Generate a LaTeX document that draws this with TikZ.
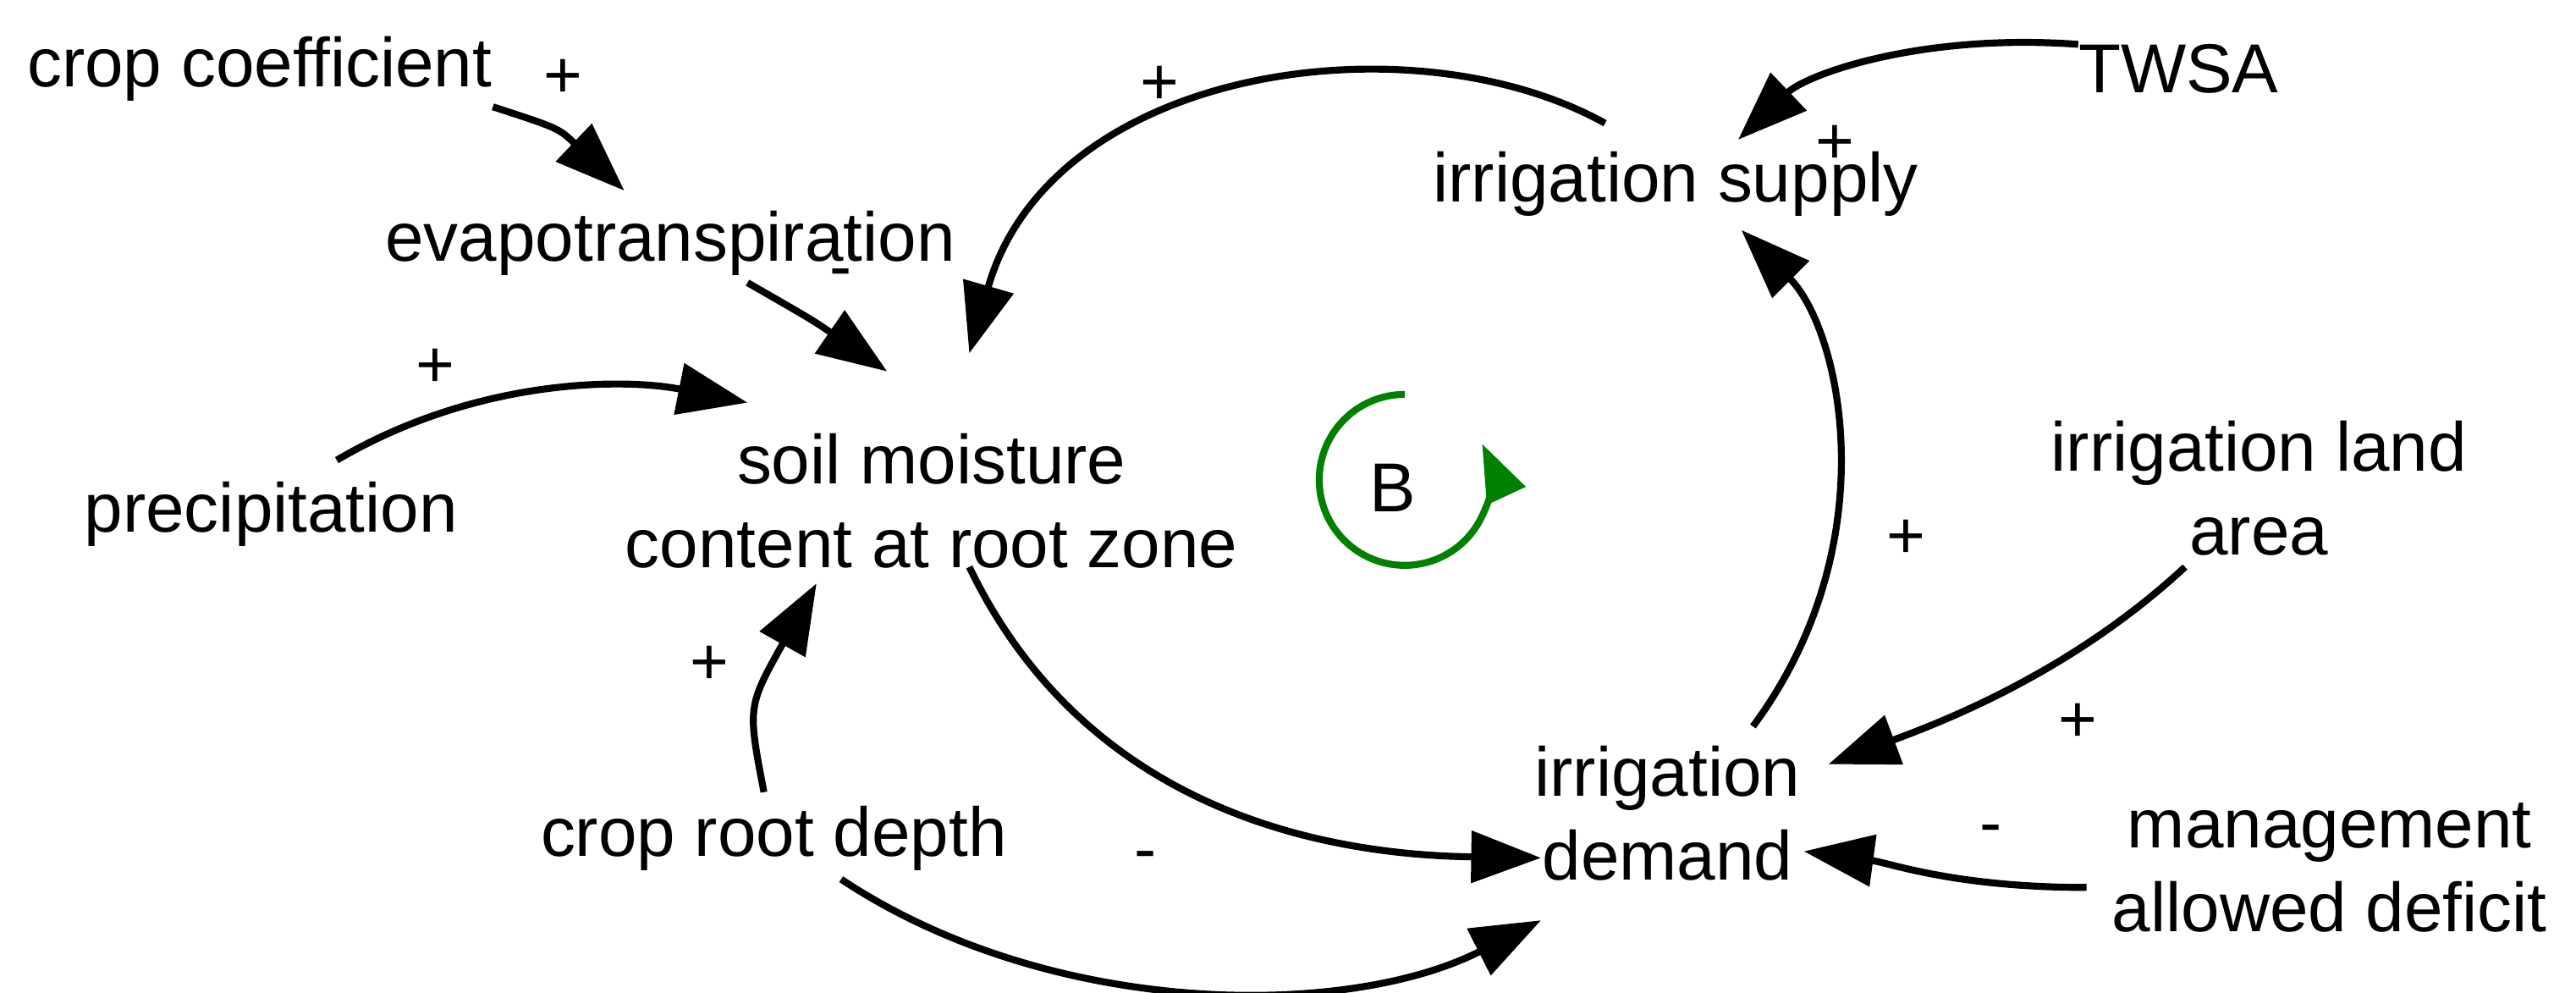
\documentclass[tikz,border=0pt]{standalone}
\usepackage{fontspec}
\setmainfont{Liberation Sans}
\usetikzlibrary{arrows.meta}
\begin{document}
\begin{tikzpicture}[x=0.02cm,y=-0.02cm,
  lbl/.style={font=\fontsize{24}{29}\selectfont, align=center, inner sep=4pt},
  sgn/.style={font=\fontsize{23}{27}\selectfont, inner sep=0pt},
  arr/.style={line width=2.4pt, -{Triangle[length=0.85cm,width=0.62cm]}}]
\useasboundingbox (0,0) rectangle (1568,604);
\node[lbl] (cc) at (158,42) {crop coefficient};
\node[lbl] (et) at (408,148) {evapotranspiration};
\node[lbl] (pr) at (165,313) {precipitation};
\node[lbl] (sm) at (567,305) {soil moisture\\content at root zone};
\node[lbl] (rd) at (471,510) {crop root depth};
\node[lbl] (id) at (1015,495) {irrigation\\demand};
\node[lbl] (is) at (1020,112) {irrigation supply};
\node[lbl] (tw) at (1326,42) {TWSA};
\node[lbl] (la) at (1375,297) {irrigation land\\area};
\node[lbl] (ma) at (1418,528) {management\\allowed deficit};
\node[sgn] (s1) at (343,48) {+};
\node[sgn] (s2) at (512,170) {-};
\node[sgn] (s3) at (265,224) {+};
\node[sgn] (s4) at (432,405) {+};
\node[sgn] (s5) at (697,524) {-};
\node[sgn] (s6) at (706,52) {+};
\node[sgn] (s7) at (1117,88) {+};
\node[sgn] (s8) at (1160,328) {+};
\node[sgn] (s9) at (1265,440) {+};
\node[sgn] (s10) at (1212,508) {-};
\node[lbl] (B) at (848,297) {B};
\coordinate (c1) at (300,65); \coordinate (c2) at (380,116);
\draw[arr] (c1) .. controls (340,78) .. (c2);
\coordinate (e1) at (455,172); \coordinate (e2) at (540,226);
\draw[arr] (e1) .. controls (495,195) .. (e2);
\coordinate (p1) at (205,280); \coordinate (p2) at (455,245);
\draw[arr] (p1) .. controls (290,230) and (380,230) .. (p2);
\coordinate (r1) at (465,482); \coordinate (r2) at (497,355);
\draw[arr] (r1) .. controls (455,430) .. (r2);
\coordinate (m1) at (590,345); \coordinate (d1) at (938,522);
\draw[arr] (m1) .. controls (660,490) and (800,520) .. (d1);
\coordinate (r3) at (512,535); \coordinate (d2) at (938,560);
\draw[arr] (r3) .. controls (640,620) and (820,620) .. (d2);
\coordinate (u1) at (977,75); \coordinate (m2) at (590,215);
\draw[arr] (u1) .. controls (860,10) and (640,40) .. (m2);
\coordinate (t1) at (1265,27); \coordinate (u2) at (1058,85);
\draw[arr] (t1) .. controls (1170,20) and (1100,45) .. (u2);
\coordinate (d3) at (1067,442); \coordinate (u3) at (1060,140);
\draw[arr] (d3) .. controls (1150,330) and (1120,200) .. (u3);
\coordinate (l1) at (1330,345); \coordinate (d4) at (1113,465);
\draw[arr] (l1) .. controls (1260,410) and (1180,440) .. (d4);
\coordinate (a1) at (1270,540); \coordinate (d5) at (1098,518);
\draw[arr] (a1) .. controls (1190,540) and (1150,525) .. (d5);
\draw[line width=2.4pt, green!50!black, -{Triangle[length=0.7cm,width=0.5cm]}]
  (855,240) arc[start angle=-90, end angle=-385, radius=52];
\end{tikzpicture}
\end{document}
